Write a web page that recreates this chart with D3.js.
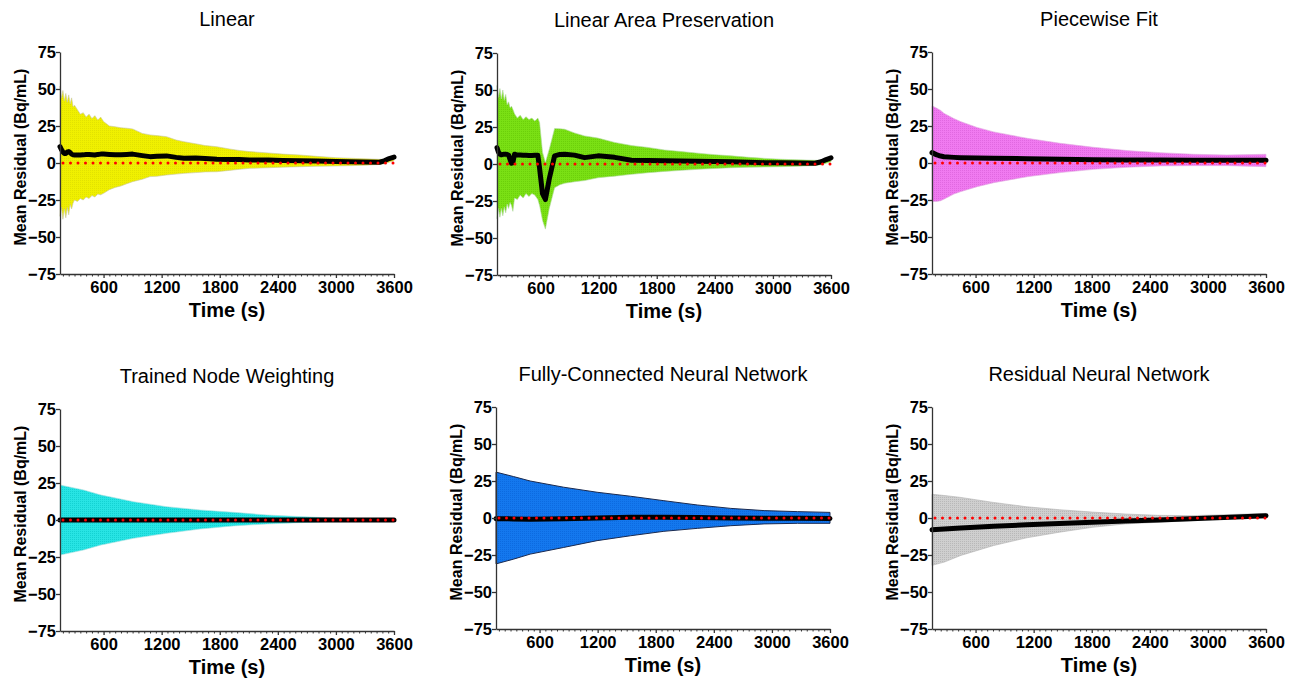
<!DOCTYPE html>
<html>
<head>
<meta charset="utf-8">
<script src="https://cdn.jsdelivr.net/npm/d3@7"></script>
<style>
  body { margin: 0; background: #fff; }
  svg { display: block; font-family: "Liberation Sans", Arial, Helvetica, sans-serif; }
</style>
</head>
<body>
<svg id="chart" width="1303" height="683"></svg>
<script>

// ---- data ----
var xTicks = [600, 1200, 1800, 2400, 3000, 3600];
var yTicks = [-75, -50, -25, 0, 25, 50, 75];
var titles = ["Linear", "Linear Area Preservation", "Piecewise Fit",
  "Trained Node Weighting", "Fully-Connected Neural Network", "Residual Neural Network"];

// Linear
var linTime  = [150, 165, 180, 195, 210, 225, 240, 255, 270, 285, 300, 330, 360, 390, 420, 450, 480, 510, 540, 570, 600, 660, 720, 780, 840, 900, 1000, 1080, 1150, 1250, 1350, 1430, 1550, 1650, 1770, 1900, 2000, 2110, 2300, 2450, 2630, 2800, 3000, 3150, 3300, 3450, 3500, 3550, 3600];
var linUpper = [52, 44, 49, 42, 47, 41, 46, 40, 44, 38, 39, 36, 33, 34, 31, 33, 30, 32, 29, 31, 28, 25, 24.5, 23.8, 23.5, 23, 20, 19, 18.5, 17.8, 15.5, 14.4, 13, 11.8, 11, 9.5, 8.5, 7.7, 6.8, 6, 5.4, 4.5, 3.6, 3.2, 2.8, 2.5, 2.6, 3.5, 4.5];
var linLower = [-36, -30, -38, -31, -37, -30, -35, -28, -31, -27, -25, -26, -24, -25, -23, -24, -22, -23, -21, -21.5, -20.5, -18, -16.5, -15.5, -14, -12.6, -11, -9.2, -9, -8.1, -7.5, -7, -6.5, -6, -5.9, -5, -4.3, -3.6, -3.2, -2.8, -2.5, -2.2, -2, -1.8, -1.5, -1, -0.5, 0.5, 1.5];
var linMean  = [11, 9, 7.5, 6.5, 6.5, 7.5, 7.7, 7, 6, 5.5, 5.4, 5.4, 5.4, 5.5, 5.8, 5.8, 5.6, 5.4, 5.8, 6, 6, 5.8, 5.6, 5.6, 5.8, 6, 5, 4.3, 4.6, 4.8, 3.8, 3.2, 3.4, 3, 2.5, 2.4, 2.3, 2, 2, 1.7, 1.5, 1.3, 1, 0.9, 0.7, 0.5, 1.5, 3, 4];

// Linear Area Preservation
var lapTime  = [150, 165, 180, 195, 210, 225, 240, 255, 270, 285, 300, 314, 331, 360, 390, 420, 450, 480, 510, 540, 572, 590, 620, 650, 690, 745, 800, 850, 950, 1055, 1193, 1366, 1538, 1710, 1880, 2055, 2227, 2400, 2572, 2750, 2917, 3090, 3260, 3434, 3500, 3550, 3600];
var lapUpper = [53, 45, 51, 44, 50, 43, 47, 40, 42, 38, 39, 37, 34, 31, 33, 30, 32, 30, 31, 29, 31, 28, 8, 1, 10, 24, 23.8, 23.5, 21, 19, 17.5, 14.6, 12.5, 11.2, 9.5, 8.4, 7.3, 6.3, 5.5, 4.5, 3.8, 3.2, 2.8, 2.5, 2.6, 3.5, 4.5];
var lapLower = [-37, -30, -36, -30, -35, -29, -33, -27, -30, -26, -28, -32, -23, -24, -21, -23, -20, -22, -20, -21, -24, -28, -38, -44, -30, -16, -14, -13, -12, -11.2, -9.3, -8.2, -7, -5.9, -5, -4.3, -3.6, -3, -2.5, -2.2, -2, -1.8, -1.5, -1, -0.5, 0.5, 1.5];
var lapMean  = [11, 8, 6.6, 6.2, 6.5, 6.6, 6.6, 6.5, 6, 3, 0.5, 1, 6.6, 6, 6, 5.9, 5.9, 5.8, 5.8, 5.9, 5.9, -3, -20, -24, -10, 5.5, 6.5, 6.6, 6, 4.3, 5.5, 4.5, 2.5, 2.3, 2.2, 2, 1.8, 1.7, 1.5, 1.2, 0.9, 0.8, 0.6, 0.5, 1.5, 3, 4.2];

// Piecewise Fit
var pwTime  = [150, 200, 240, 273, 376, 445, 617, 789, 1133, 1477, 1821, 2165, 2509, 2853, 3197, 3600];
var pwUpper = [38.6, 37, 35.5, 33.6, 30, 28, 24, 21, 16.7, 13.3, 10.6, 8.4, 7, 5.9, 5.4, 5.9];
var pwLower = [-26, -26, -25.5, -24.5, -21, -19.4, -16, -13.3, -9.3, -6.5, -4.3, -2.9, -2, -1.8, -1.8, -2.5];
var pwMean  = [7, 5.5, 4.7, 4.2, 3.8, 3.6, 3.3, 3.2, 2.9, 2.5, 2.2, 2.1, 2, 1.9, 1.8, 1.8];

// Trained Node Weighting
var tnTime  = [150, 394, 566, 910, 1254, 1598, 1942, 2286, 2630, 2974, 3318, 3600];
var tnUpper = [23.7, 20.3, 17, 12.4, 9, 6.8, 5.2, 3.4, 2.3, 1.4, 0.9, 0.7];
var tnLower = [-23.7, -20.3, -17, -12.4, -9, -6.1, -4, -2.7, -1.8, -1.1, -0.8, -0.7];
var tnMean  = [0, 0, 0, 0, 0, 0, 0, 0, 0, 0, 0, 0];

// Fully-Connected Neural Network
var fcTime  = [150, 331, 503, 849, 1194, 1539, 1884, 2229, 2575, 2920, 3265, 3600];
var fcUpper = [31, 28, 25, 20.8, 17.4, 14.7, 11.7, 8.8, 6.5, 5, 4.3, 3.8];
var fcLower = [-31, -27.8, -24.4, -19.9, -15.3, -12, -9, -7, -5.2, -4, -3.6, -3.6];
var fcMean  = [-0.5, -0.6, -0.8, -0.5, 0, 0.5, 0.5, 0.3, 0, -0.2, -0.2, -0.3];

// Residual Neural Network
var rnTime  = [150, 277, 447, 787, 1127, 1466, 1806, 2146, 2486, 2826, 3165, 3600];
var rnUpper = [16, 15.2, 13.9, 10.5, 7.6, 5.6, 4, 2.7, 1.8, 1.6, 2.2, 3.1];
var rnLower = [-32, -29.8, -25.3, -18.6, -13.4, -9.6, -6.3, -4, -2.9, -1.8, 0, 0.9];
var rnMean  = [-8, -7.4, -6.7, -5.6, -4.6, -3.7, -2.9, -2.1, -1.3, -0.5, 0.3, 1.6];

// ---- layout / style ----
var panels = [
  { t: linTime, u: linUpper, l: linLower, m: linMean, left: 60,  top: 52,  fill: "#f0f000", dot: "#e2e200", edge: "#c8c8a0" },
  { t: lapTime, u: lapUpper, l: lapLower, m: lapMean, left: 497, top: 53,  fill: "#7ae014", dot: "#6cd00a", edge: "#b0d8a0" },
  { t: pwTime,  u: pwUpper,  l: pwLower,  m: pwMean,  left: 932, top: 52,  fill: "#f07af0", dot: "#e068e0", edge: "#e0b0e0" },
  { t: tnTime,  u: tnUpper,  l: tnLower,  m: tnMean,  left: 60,  top: 409, fill: "#28e4e4", dot: "#14d2d2", edge: "#b0e0e0" },
  { t: fcTime,  u: fcUpper,  l: fcLower,  m: fcMean,  left: 496, top: 407, fill: "#1478ee", dot: "#0c6ae0", edge: "#1a2a50" },
  { t: rnTime,  u: rnUpper,  l: rnLower,  m: rnMean,  left: 932, top: 407, fill: "#cfcfcf", dot: "#b8b8b8", edge: "#b0b0b0" }
];
var width = 334;
var height = 222;

var svg = d3.select("#chart");
var defs = svg.append("defs");

panels.forEach(function (p, i) {

  // halftone-ish texture for the band
  var pat = defs.append("pattern")
    .attr("id", "tex" + i)
    .attr("patternUnits", "userSpaceOnUse")
    .attr("width", 2)
    .attr("height", 2);
  pat.append("rect").attr("width", 2).attr("height", 2).attr("fill", p.fill);
  pat.append("rect").attr("width", 1).attr("height", 1).attr("fill", p.dot);

  var g = svg.append("g")
    .attr("transform", "translate(" + p.left + "," + p.top + ")");

  var x = d3.scaleLinear().domain([150, 3600]).range([0, width]);
  var y = d3.scaleLinear().domain([-75, 75]).range([height, 0]);

  var rows = p.t.map(function (d, k) { return { t: d, u: p.u[k], l: p.l[k], m: p.m[k] }; });

  // band
  g.append("path")
    .datum(rows)
    .attr("fill", "url(#tex" + i + ")")
    .attr("stroke", p.edge)
    .attr("stroke-width", i == 4 ? 1 : 0.6)
    .attr("d", d3.area()
      .x(function (d) { return x(d.t); })
      .y0(function (d) { return y(d.l); })
      .y1(function (d) { return y(d.u); }));

  // mean line
  g.append("path")
    .datum(rows)
    .attr("fill", "none")
    .attr("stroke", "black")
    .attr("stroke-width", 5)
    .attr("stroke-linejoin", "round")
    .attr("stroke-linecap", "round")
    .attr("d", d3.line()
      .x(function (d) { return x(d.t); })
      .y(function (d) { return y(d.m); }));

  // red dotted zero line
  g.append("line")
    .attr("x1", 3)
    .attr("x2", width)
    .attr("y1", y(0))
    .attr("y2", y(0))
    .attr("stroke", "#ff0000")
    .attr("stroke-width", 3)
    .attr("stroke-linecap", "round")
    .attr("stroke-dasharray", "0 7.5");

  // minor x ticks
  g.append("g")
    .attr("transform", "translate(0," + height + ")")
    .call(d3.axisBottom(x)
      .tickValues(d3.range(180, 3600, 60).filter(function (v) { return v % 600 != 0; }))
      .tickSize(2.5)
      .tickSizeOuter(0)
      .tickFormat(""))
    .call(function (a) { a.select(".domain").remove(); })
    .selectAll("line").attr("stroke", "#333");

  // X axis
  var xa = g.append("g")
    .attr("transform", "translate(0," + height + ")")
    .call(d3.axisBottom(x).tickValues(xTicks).tickFormat(d3.format("d"))
      .tickSize(4).tickSizeOuter(0).tickPadding(3));
  xa.selectAll("text")
    .style("font-size", "16.5px")
    .style("font-weight", "bold")
    .attr("fill", "black");
  xa.selectAll("line, path").attr("stroke", "#333").attr("stroke-width", 1.3);

  // Y axis
  var ya = g.append("g")
    .call(d3.axisLeft(y).tickValues(yTicks).tickSize(4).tickSizeOuter(0).tickPadding(0));
  ya.selectAll("text")
    .style("font-size", "16.5px")
    .style("font-weight", "bold")
    .attr("fill", "black");
  ya.selectAll("line, path").attr("stroke", "#333").attr("stroke-width", 1.3);

  // title
  g.append("text")
    .attr("x", width / 2)
    .attr("y", -26)
    .attr("text-anchor", "middle")
    .style("font-size", "20px")
    .text(titles[i]);

  // axis labels
  g.append("text")
    .attr("x", width / 2)
    .attr("y", height + 43)
    .attr("text-anchor", "middle")
    .style("font-size", "20px")
    .style("font-weight", "bold")
    .text("Time (s)");

  g.append("text")
    .attr("transform", "rotate(-90)")
    .attr("x", -height / 2 + 6)
    .attr("y", -40)
    .attr("dy", "0.35em")
    .attr("text-anchor", "middle")
    .style("font-size", "16px")
    .style("font-weight", "bold")
    .text("Mean Residual (Bq/mL)");
});

</script>
</body>
</html>
